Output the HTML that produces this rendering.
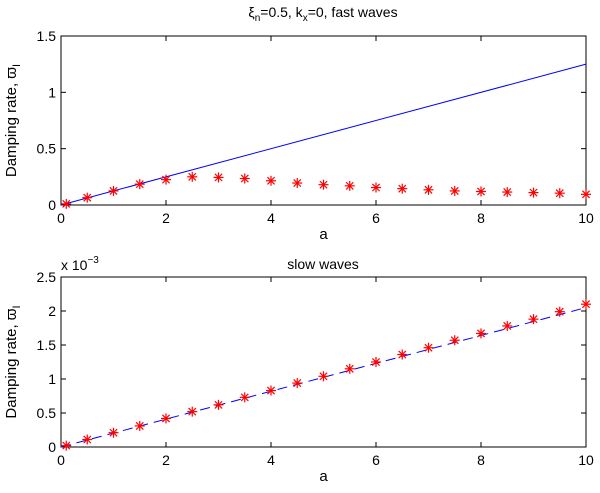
<!DOCTYPE html>
<html><head><meta charset="utf-8"><style>
body{margin:0;background:#fff}
svg text{font-family:"Liberation Sans",sans-serif;fill:#000}
</style></head><body>
<svg id="c" width="600" height="488" xmlns="http://www.w3.org/2000/svg"></svg>
<script>
const aVals=[0.1,0.5,1,1.5,2,2.5,3,3.5,4,4.5,5,5.5,6,6.5,7,7.5,8,8.5,9,9.5,10];
const fastVals=[0.01,0.065,0.125,0.185,0.225,0.25,0.245,0.235,0.215,0.195,0.18,0.17,0.155,0.145,0.135,0.125,0.12,0.115,0.11,0.105,0.095];
const fastLineX=[0,10];
const fastLineY=[0,1.25];
const slowVals=[0.02,0.11,0.21,0.31,0.42,0.52,0.62,0.73,0.83,0.94,1.04,1.15,1.25,1.36,1.46,1.57,1.67,1.78,1.88,1.99,2.1];
const slowLineX=[0,10];
const slowLineY=[0,2.05];
const xTicks=[0,2,4,6,8,10];
const fastTicks=[0,0.5,1,1.5];
const slowTicks=[0,0.5,1,1.5,2,2.5];
const svg=document.getElementById('c');
const NS='http://www.w3.org/2000/svg';
function mk(t,a,p){const e=document.createElementNS(NS,t);for(const k in a)e.setAttribute(k,a[k]);(p||svg).appendChild(e);return e;}
function panel(top,bot,ymax,ticks,pts,lx,ly,dash,name){
  const L=61,R=586;
  const X=v=>L+(R-L)*v/10, Y=v=>bot-(bot-top)*v/ymax;
  const g=mk('g',{});
  
  
  mk('rect',{x:L,y:top,width:R-L,height:bot-top,fill:'none',stroke:'#000','stroke-width':1},g);
  xTicks.forEach(t=>{
    mk('line',{x1:X(t),x2:X(t),y1:bot,y2:bot-5,stroke:'#000'},g);
    mk('line',{x1:X(t),x2:X(t),y1:top,y2:top+5,stroke:'#000'},g);
    const tx=mk('text',{x:X(t),y:bot+18,'text-anchor':'middle','font-size':14},g);tx.textContent=t;
    
  });
  ticks.forEach(t=>{
    mk('line',{x1:L,x2:L+5,y1:Y(t),y2:Y(t),stroke:'#000'},g);
    mk('line',{x1:R,x2:R-5,y1:Y(t),y2:Y(t),stroke:'#000'},g);
    const tx=mk('text',{x:L-5,y:Y(t)+5,'text-anchor':'end','font-size':14},g);tx.textContent=t;
    
  });
  const ln=mk('line',{x1:X(lx[0]),y1:Y(ly[0]),x2:X(lx[1]),y2:Y(ly[1]),stroke:'#0000ff','stroke-width':1},g);
  if(dash)ln.setAttribute('stroke-dasharray','10,6');
  
  pts.forEach((v,i)=>{
    const cx=X(aVals[i]),cy=Y(v),r=5;
    const m=mk('g',{stroke:'#ff0000','stroke-width':1.2},g);
    
    
    mk('line',{x1:cx-r,x2:cx+r,y1:cy,y2:cy},m);
    mk('line',{x1:cx,x2:cx,y1:cy-r,y2:cy+r},m);
    mk('line',{x1:cx-3.6,x2:cx+3.6,y1:cy-3.6,y2:cy+3.6},m);
    mk('line',{x1:cx-3.6,x2:cx+3.6,y1:cy+3.6,y2:cy-3.6},m);
  });
  const xl=mk('text',{x:(L+R)/2,y:bot+34,'text-anchor':'middle','font-size':15},g);xl.textContent='a';
  
  const yc=(top+bot)/2;
  const yl=mk('text',{x:0,y:0,'text-anchor':'middle','font-size':15,transform:`translate(16,${yc}) rotate(-90)`},g);
  yl.innerHTML='Damping rate, ϖ<tspan font-size="11" dy="4">I</tspan>';
  
}
panel(36,205,1.5,fastTicks,fastVals,fastLineX,fastLineY,false,'fast-waves-panel');
panel(277,447,2.5,slowTicks,slowVals,slowLineX,slowLineY,true,'slow-waves-panel');
const t1=mk('text',{x:323,y:17,'text-anchor':'middle','font-size':14});
t1.innerHTML='ξ<tspan font-size="10" dy="4">n</tspan><tspan dy="-4">=0.5, k</tspan><tspan font-size="10" dy="4">x</tspan><tspan dy="-4">=0, fast waves</tspan>';

const t2=mk('text',{x:323,y:269,'text-anchor':'middle','font-size':14});t2.textContent='slow waves';

const t3=mk('text',{x:61,y:270,'font-size':14});
t3.innerHTML='x 10<tspan font-size="10" dy="-7">−3</tspan>';

</script>
</body></html>
